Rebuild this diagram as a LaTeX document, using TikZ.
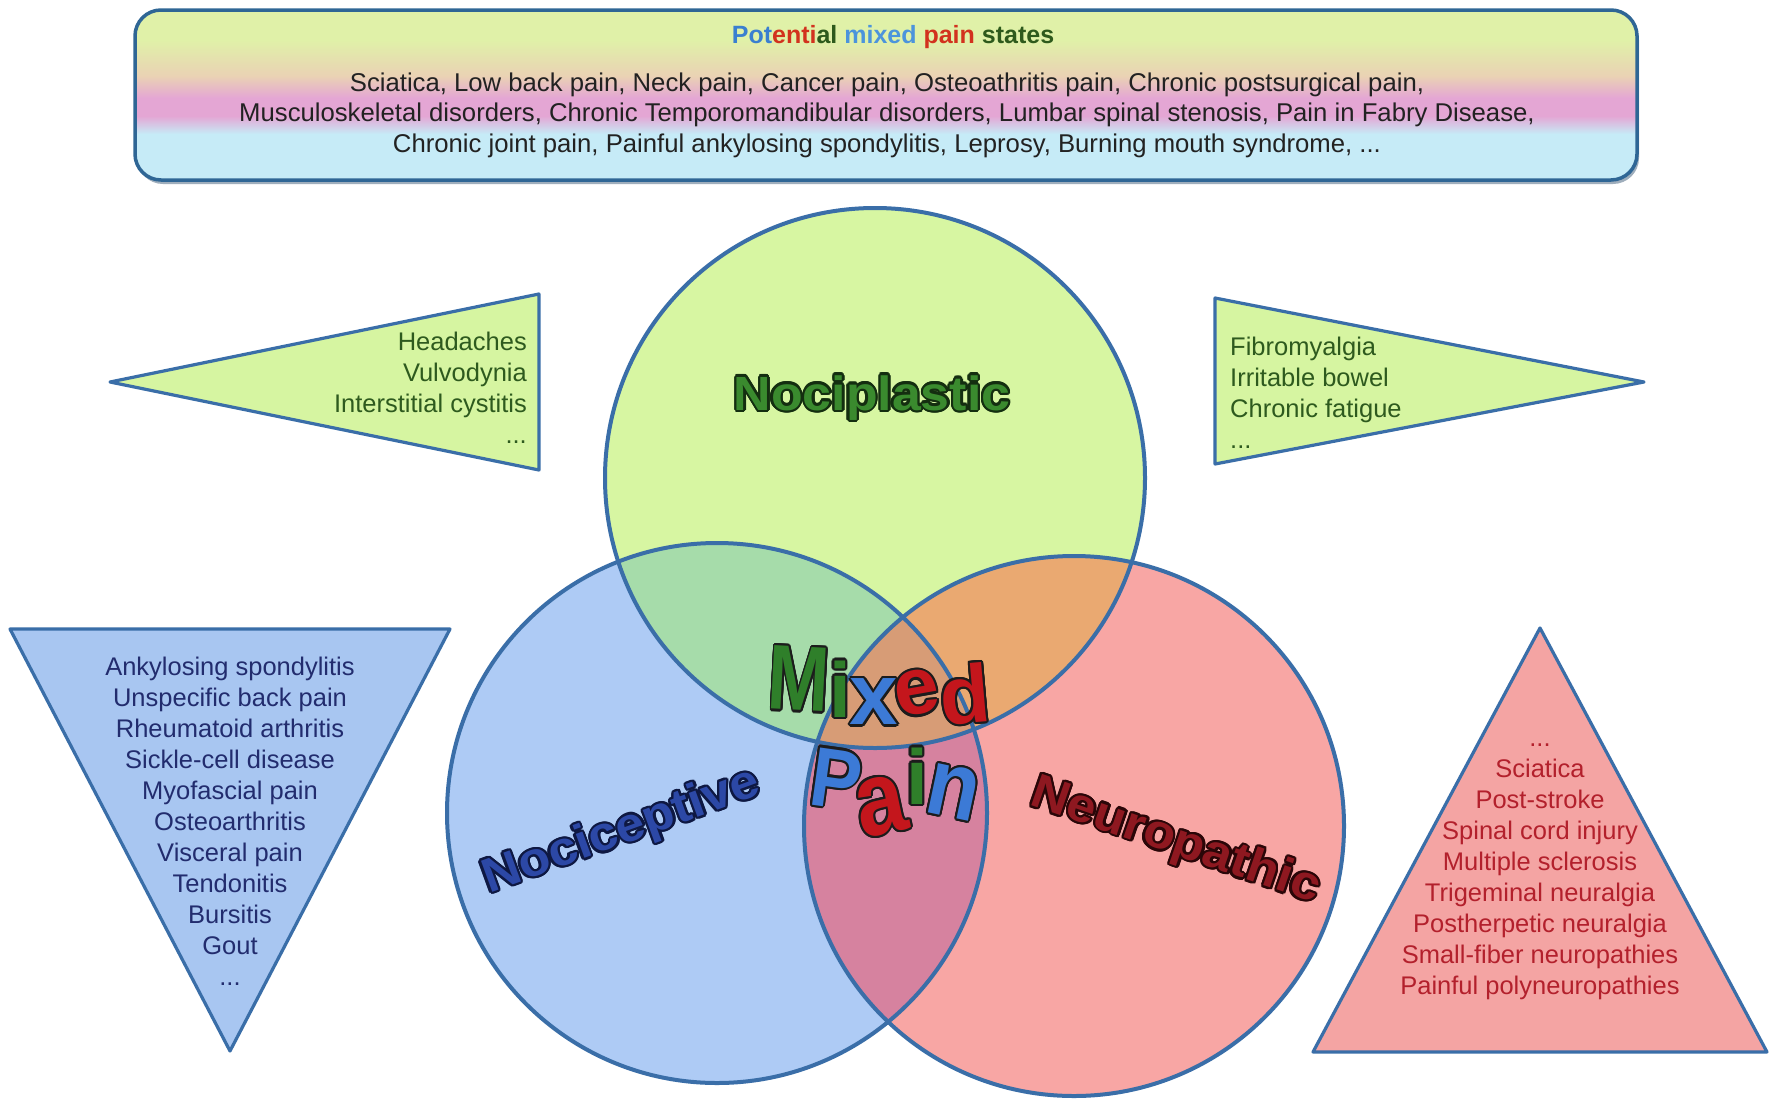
\documentclass[tikz,border=0pt]{standalone}
\usepackage{fontspec}
\setmainfont{Liberation Sans}
\usepackage{graphicx}
\usepackage[copies]{contour}
\contournumber{16}
\contourlength{2.2pt}

% palette
\definecolor{tbTop}{HTML}{E0F1A8}
\definecolor{tbBeige}{HTML}{EAD2B4}
\definecolor{tbPink}{HTML}{E4A6D4}
\definecolor{tbCyan}{HTML}{C6EBF7}
\definecolor{boxLine}{HTML}{2F6695}
\definecolor{boxShadow}{HTML}{5F7890}
\definecolor{bodyText}{HTML}{222222}
\definecolor{ttBlue}{HTML}{3A7FD0}
\definecolor{ttLBlue}{HTML}{4C94DC}
\definecolor{ttRed}{HTML}{D2321E}
\definecolor{ttGreen}{HTML}{2E5A1C}
\definecolor{circLine}{HTML}{3A6EA8}
\definecolor{cNoPl}{HTML}{D7F6A2}
\definecolor{cNoCe}{HTML}{AECBF5}
\definecolor{cNeur}{HTML}{F8A6A4}
\definecolor{cPlCe}{HTML}{A6DCAA}
\definecolor{cPlNe}{HTML}{EAA971}
\definecolor{cCeNe}{HTML}{D6829F}
\definecolor{cAll}{HTML}{D79C76}
\definecolor{triGreen}{HTML}{D6F5A1}
\definecolor{triBlue}{HTML}{A8C6F1}
\definecolor{triRed}{HTML}{F4A4A3}
\definecolor{txGreen}{HTML}{2E5A1E}
\definecolor{txBlue}{HTML}{222C6E}
\definecolor{txRed}{HTML}{B3202C}
\definecolor{wGreen}{HTML}{3A8A2E}
\definecolor{wGreenOut}{HTML}{142E10}
\definecolor{wBlue}{HTML}{2C48A6}
\definecolor{wBlueOut}{HTML}{0E1842}
\definecolor{wRed}{HTML}{8E1820}
\definecolor{wRedOut}{HTML}{2A0608}
\definecolor{mGreen}{HTML}{2F7F2A}
\definecolor{mBlue}{HTML}{3C7AD6}
\definecolor{mRed}{HTML}{C4161C}
\definecolor{mOut}{HTML}{1C1C1C}

\begin{document}
\begin{tikzpicture}[x=1pt,y=-1pt,line join=round,
  tri/.style={draw=circLine,line width=3.2pt},
  ring/.style={draw=circLine,line width=4pt},
  listtext/.style={inner sep=0pt,font=\fontsize{25.5}{31}\selectfont},
  bigword/.style={inner sep=0pt,font=\bfseries\fontsize{48}{48}\selectfont},
  wl/.style={inner sep=0pt,font=\bfseries\fontsize{#1}{#1}\selectfont}]

\useasboundingbox (0,0) rectangle (1775,1098);
\fill[white] (0,0) rectangle (1775,1098);

% ---------- banner with the list of mixed pain states ----------
\fill[boxShadow,opacity=0.6,rounded corners=26pt] (137,14) rectangle (1639,184);
\begin{scope}
  \clip[rounded corners=26pt] (135,10) rectangle (1637,180);
  \fill[tbTop] (135,10) rectangle (1637,40);
  \shade[top color=tbTop,bottom color=tbBeige] (135,40) rectangle (1637,76);
  \shade[top color=tbBeige,bottom color=tbPink] (135,76) rectangle (1637,98);
  \fill[tbPink] (135,98) rectangle (1637,116);
  \shade[top color=tbPink,bottom color=tbCyan] (135,116) rectangle (1637,134);
  \fill[tbCyan] (135,134) rectangle (1637,180);
\end{scope}
\draw[boxLine,line width=3.5pt,rounded corners=26pt] (135,10) rectangle (1637,180);

\node[anchor=base,inner sep=0pt,font=\bfseries\fontsize{25}{30}\selectfont] (title) at (893,43)
  {\textcolor{ttBlue}{Pot}\textcolor{ttRed}{enti}\textcolor{ttGreen}{al} \textcolor{ttLBlue}{mixed} \textcolor{ttRed}{pain} \textcolor{ttGreen}{states}};
\node[anchor=north,align=center,inner sep=0pt,text=bodyText,font=\fontsize{25.7}{30.5}\selectfont] (states) at (887,69.6)
  {\strut Sciatica, Low back pain, Neck pain, Cancer pain, Osteoathritis pain, Chronic postsurgical pain,\\
   Musculoskeletal disorders, Chronic Temporomandibular disorders, Lumbar spinal stenosis, Pain in Fabry Disease,\\
   Chronic joint pain, Painful ankylosing spondylitis, Leprosy, Burning mouth syndrome, ...};

% ---------- pointer triangles ----------
\coordinate (gl1) at (110,382);  \coordinate (gl2) at (539,294);  \coordinate (gl3) at (539,470);
\coordinate (gr1) at (1644,382); \coordinate (gr2) at (1215,298); \coordinate (gr3) at (1215,464);
\coordinate (bl1) at (10,629);   \coordinate (bl2) at (450,629);  \coordinate (bl3) at (230,1051);
\coordinate (rd1) at (1540,628); \coordinate (rd2) at (1767,1052); \coordinate (rd3) at (1313,1052);
\draw[tri,fill=triGreen] (gl1) -- (gl2) -- (gl3) -- cycle;
\draw[tri,fill=triGreen] (gr1) -- (gr2) -- (gr3) -- cycle;
\draw[tri,fill=triBlue] (bl1) -- (bl2) -- (bl3) -- cycle;
\draw[tri,fill=triRed] (rd1) -- (rd2) -- (rd3) -- cycle;

\node[listtext,text=txGreen,align=right,anchor=north east] (plastL) at (527,329)
  {\strut Headaches\\Vulvodynia\\Interstitial cystitis\\...};
\node[listtext,text=txGreen,align=left,anchor=north west] (plastR) at (1230,334)
  {\strut Fibromyalgia\\Irritable bowel\\Chronic fatigue\\...};
\node[listtext,text=txBlue,align=center,anchor=north] (ceptL) at (230,654)
  {\strut Ankylosing spondylitis\\Unspecific back pain\\Rheumatoid arthritis\\Sickle-cell disease\\Myofascial pain\\Osteoarthritis\\Visceral pain\\Tendonitis\\Bursitis\\Gout\\...};
\node[listtext,text=txRed,align=center,anchor=north] (neurL) at (1540,725)
  {\strut ...\\Sciatica\\Post-stroke\\Spinal cord injury\\Multiple sclerosis\\Trigeminal neuralgia\\Postherpetic neuralgia\\Small-fiber neuropathies\\Painful polyneuropathies};

% ---------- three overlapping circles ----------
\def\circPl{(875,478) circle (270pt)}
\def\circCe{(717,813) circle (270pt)}
\def\circNe{(1074,826) circle (270pt)}
\fill[cNoPl] \circPl;
\fill[cNoCe] \circCe;
\fill[cNeur] \circNe;
\begin{scope}
  \clip \circPl;
  \fill[cPlCe] \circCe;
  \fill[cPlNe] \circNe;
\end{scope}
\begin{scope}
  \clip \circCe;
  \fill[cCeNe] \circNe;
\end{scope}
\begin{scope}
  \clip \circPl;
  \clip \circCe;
  \fill[cAll] \circNe;
\end{scope}
\draw[ring] \circPl;
\draw[ring] \circCe;
\draw[ring] \circNe;

% ---------- circle titles ----------
\node[bigword,text=wGreen,anchor=base] (nociplastic) at (872,410)
  {\scalebox{1.08}[1]{\contour{wGreenOut}{Nociplastic}}};
\node[bigword,text=wBlue,rotate=20] (nociceptive) at (622,833)
  {\scalebox{1.08}[1]{\contour{wBlueOut}{Nociceptive}}};
\node[bigword,text=wRed,rotate=-19] (neuropathic) at (1175,843)
  {\scalebox{1.08}[1]{\contour{wRedOut}{Neuropathic}}};

% ---------- "Mixed Pain" lettering ----------
\node[wl=92,text=mGreen,rotate=-3] (mxM) at (799,680) {\scalebox{0.8}[1]{\contour{mOut}{M}}};
\node[wl=78,text=mGreen] (mxI) at (840,690) {\contour{mOut}{i}};
\node[wl=87,text=mBlue] (mxX) at (874,703) {\contour{mOut}{x}};
\node[wl=81,text=mRed,rotate=10] (mxE) at (917,694) {\contour{mOut}{e}};
\node[wl=82,text=mRed,rotate=5] (mxD) at (965,695) {\contour{mOut}{d}};
\node[wl=84,text=mBlue,rotate=-8] (pnP) at (836,780) {\scalebox{0.9}[1]{\contour{mOut}{P}}};
\node[wl=105,text=mRed,rotate=12] (pnA) at (881,807) {\scalebox{0.85}[1]{\contour{mOut}{a}}};
\node[wl=78,text=mGreen] (pnI) at (917,777) {\contour{mOut}{i}};
\node[wl=95,text=mBlue,rotate=-12] (pnN) at (953,793) {\scalebox{0.9}[1]{\contour{mOut}{n}}};
\end{tikzpicture}
\end{document}
